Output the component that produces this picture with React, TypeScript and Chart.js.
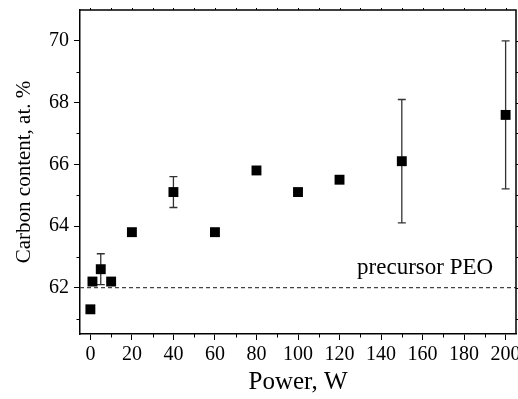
import React, { useEffect, useRef } from 'react';
import { Chart, registerables } from 'chart.js';

Chart.register(...registerables);

// ---- data ----
const powerW = [0, 1, 5, 10, 20, 40, 60, 80, 100, 120, 150, 200];
const carbonPct = [61.3, 62.2, 62.6, 62.2, 63.8, 65.1, 63.8, 65.8, 65.1, 65.5, 66.1, 67.6];
const carbonErr = [0, 0, 0.5, 0, 0, 0.5, 0, 0, 0, 0, 2.0, 2.4];

const xTickValues = [0, 20, 40, 60, 80, 100, 120, 140, 160, 180, 200];
const xMinorValues = [10, 30, 50, 70, 90, 110, 130, 150, 170, 190];
const yTickValues = [62, 64, 66, 68, 70];
const yMinorValues = [61, 63, 65, 67, 69];
const topTickValues = [0, 10, 20, 30, 40, 50, 60, 70, 80, 90, 100, 110, 120, 130, 140, 150, 160, 170, 180, 190, 200];
const rightTickValues = [61, 62, 63, 64, 65, 66, 67, 68, 69, 70];

const precursorValue = 62;
const precursorLabel = 'precursor PEO';
const precursorLabelX = 194;
const precursorLabelY = 62.45;

const xTitle = 'Power, W';
const yTitle = 'Carbon content, at. %';

const SERIF = "'Liberation Serif', 'Times New Roman', serif";

const extrasPlugin = {
  id: 'extras',
  beforeDatasetsDraw(chart: any) {
    const { ctx, chartArea, scales } = chart;
    const xs = scales.x;
    const ys = scales.y;
    ctx.save();
    // dashed precursor line
    const yb = ys.getPixelForValue(precursorValue);
    ctx.strokeStyle = '#444';
    ctx.lineWidth = 1.3;
    ctx.setLineDash([4, 3]);
    ctx.beginPath();
    ctx.moveTo(chartArea.left, yb);
    ctx.lineTo(chartArea.right, yb);
    ctx.stroke();
    ctx.setLineDash([]);
    // error bars
    ctx.strokeStyle = '#333';
    ctx.lineWidth = 1.3;
    for (let i = 0; i < powerW.length; i++) {
      const e = carbonErr[i];
      if (!e) continue;
      const px = xs.getPixelForValue(powerW[i]);
      const pTop = ys.getPixelForValue(carbonPct[i] + e);
      const pBot = ys.getPixelForValue(carbonPct[i] - e);
      ctx.beginPath();
      ctx.moveTo(px, pTop);
      ctx.lineTo(px, pBot);
      ctx.moveTo(px - 4, pTop);
      ctx.lineTo(px + 4, pTop);
      ctx.moveTo(px - 4, pBot);
      ctx.lineTo(px + 4, pBot);
      ctx.stroke();
    }
    // label
    ctx.fillStyle = '#000';
    ctx.font = `23px ${SERIF}`;
    ctx.textAlign = 'right';
    ctx.textBaseline = 'alphabetic';
    ctx.fillText(precursorLabel, xs.getPixelForValue(precursorLabelX), ys.getPixelForValue(precursorLabelY));
    ctx.restore();
  },
  afterDraw(chart: any) {
    const { ctx, chartArea, scales } = chart;
    const xs = scales.x;
    const ys = scales.y;
    ctx.save();
    ctx.strokeStyle = '#000';
    ctx.lineWidth = 1.5;
    // top and right frame
    ctx.beginPath();
    ctx.moveTo(chartArea.left, chartArea.top);
    ctx.lineTo(chartArea.right, chartArea.top);
    ctx.lineTo(chartArea.right, chartArea.bottom);
    ctx.stroke();
    ctx.lineWidth = 1;
    ctx.beginPath();
    // minor x ticks
    for (const v of xMinorValues) {
      const px = Math.round(xs.getPixelForValue(v)) + 0.5;
      ctx.moveTo(px, chartArea.bottom);
      ctx.lineTo(px, chartArea.bottom + 3.5);
    }
    // minor y ticks
    for (const v of yMinorValues) {
      const py = Math.round(ys.getPixelForValue(v)) + 0.5;
      ctx.moveTo(chartArea.left, py);
      ctx.lineTo(chartArea.left - 3.5, py);
    }
    // top ticks
    for (const v of topTickValues) {
      const px = Math.round(xs.getPixelForValue(v)) + 0.5;
      ctx.moveTo(px, chartArea.top);
      ctx.lineTo(px, chartArea.top - 2);
    }
    // right ticks
    for (const v of rightTickValues) {
      const py = Math.round(ys.getPixelForValue(v)) + 0.5;
      ctx.moveTo(chartArea.right, py);
      ctx.lineTo(chartArea.right + 2, py);
    }
    ctx.stroke();
    ctx.restore();
  },
};

export default function App() {
  const canvasRef = useRef<HTMLCanvasElement | null>(null);

  useEffect(() => {
    const canvas = canvasRef.current;
    if (!canvas) return;
    const chart = new Chart(canvas, {
      type: 'scatter',
      data: {
        datasets: [
          {
            label: 'Carbon content',
            data: powerW.map((x, i) => ({ x, y: carbonPct[i] })),
            pointStyle: 'rect',
            pointRadius: 7,
            pointHoverRadius: 7,
            backgroundColor: '#000',
            borderColor: '#000',
            borderWidth: 0,
            showLine: false,
          },
        ],
      },
      options: {
        responsive: true,
        maintainAspectRatio: false,
        animation: false,
        events: [],
        layout: { autoPadding: false, padding: { top: 10, right: 2, left: 0, bottom: 0 } },
        plugins: {
          legend: { display: false },
          tooltip: { enabled: false },
        },
        scales: {
          x: {
            type: 'linear',
            min: -5,
            max: 205,
            afterFit: (s: any) => {
              s.height = 65;
              s.paddingLeft = 0;
              s.paddingRight = 0;
            },
            afterBuildTicks: (s: any) => {
              s.ticks = xTickValues.map((v) => ({ value: v }));
            },
            ticks: {
              autoSkip: false,
              maxRotation: 0,
              padding: 3,
              color: '#000',
              font: { family: SERIF, size: 20 },
            },
            grid: {
              drawOnChartArea: false,
              drawTicks: true,
              tickLength: 6,
              tickColor: '#000',
              tickWidth: 1,
            },
            border: { display: true, color: '#000', width: 1.5 },
            title: {
              display: true,
              text: xTitle,
              color: '#000',
              font: { family: SERIF, size: 25 },
              padding: { top: 0, bottom: 2 },
            },
          },
          y: {
            type: 'linear',
            min: 60.5,
            max: 71,
            afterFit: (s: any) => {
              s.width = 80;
              s.paddingTop = 0;
              s.paddingBottom = 0;
            },
            afterBuildTicks: (s: any) => {
              s.ticks = yTickValues.map((v) => ({ value: v }));
            },
            ticks: {
              autoSkip: false,
              padding: 5,
              color: '#000',
              font: { family: SERIF, size: 20 },
            },
            grid: {
              drawOnChartArea: false,
              drawTicks: true,
              tickLength: 6,
              tickColor: '#000',
              tickWidth: 1,
            },
            border: { display: true, color: '#000', width: 1.5 },
            title: {
              display: true,
              text: yTitle,
              color: '#000',
              font: { family: SERIF, size: 21 },
              padding: { top: 12, bottom: 0 },
            },
          },
        },
      },
      plugins: [extrasPlugin],
    });
    return () => chart.destroy();
  }, []);

  return (
    <div style={{ position: 'fixed', left: 0, top: 0, width: 518, height: 399, background: '#fff' }}>
      <canvas ref={canvasRef} />
    </div>
  );
}
